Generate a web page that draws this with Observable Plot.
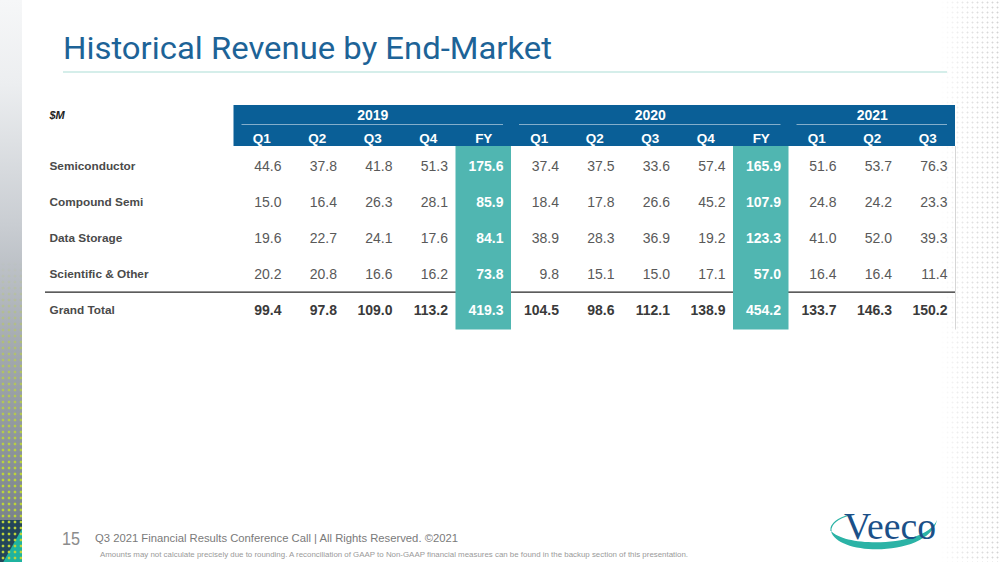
<!DOCTYPE html>
<html>
<head>
<meta charset="utf-8">
<script src="https://cdn.jsdelivr.net/npm/d3@7"></script>
<script src="https://cdn.jsdelivr.net/npm/@observablehq/plot@0.6"></script>
<style>
html, body { margin: 0; padding: 0; background: #fff; }
#page { position: relative; width: 1000px; height: 562px; overflow: hidden; background: #fff; font-family: "Liberation Sans", Arial, sans-serif; }
#leftStrip { position: absolute; left: 0; top: 0; width: 22px; height: 562px;
  background: linear-gradient(to bottom, #f6f7f8 0%, #eceef0 15%, #c9cdd2 40%, #a3a9b0 62%, #858d96 85%, #6f7882 100%); }
#leftCorner { position: absolute; left: 0; top: 520px; width: 22px; height: 42px; background: #23455a; }
#leftTeal { position: absolute; left: 0; top: 520px; width: 22px; height: 42px; background: #1fb3a0;
  clip-path: polygon(100% 20%, 100% 100%, 15% 100%); }
#leftDots { position: absolute; left: 0; top: 260px; width: 22px; height: 302px;
  background-image: radial-gradient(circle, #bcd43a 1.2px, transparent 1.7px);
  background-size: 6px 6px; background-position: 0px 1px;
  -webkit-mask-image: linear-gradient(to bottom, transparent 0%, rgba(0,0,0,0.6) 35%, #000 70%);
  mask-image: linear-gradient(to bottom, transparent 0%, rgba(0,0,0,0.6) 35%, #000 70%); }
#rightDots { position: absolute; left: 940px; top: 0; width: 60px; height: 562px;
  background-image: radial-gradient(circle, #d2d2d2 0.75px, transparent 1.2px);
  background-size: 5px 5px;
  -webkit-mask-image: linear-gradient(to right, transparent 0%, rgba(0,0,0,0.6) 45%, #000 100%);
  mask-image: linear-gradient(to right, transparent 0%, rgba(0,0,0,0.6) 45%, #000 100%); }
#header { position: absolute; left: 0; top: 105px; }
#body { position: absolute; left: 0; top: 146px; }
#deco { position: absolute; left: 0; top: 0; }
svg { overflow: visible; }
</style>
</head>
<body>
<div id="page">
  <div id="leftStrip"></div>
  <div id="leftCorner"></div>
  <div id="leftTeal"></div>
  <div id="leftDots"></div>
  <div id="rightDots"></div>
  <svg id="deco" width="1000" height="562" xmlns="http://www.w3.org/2000/svg">
    <text x="63" y="59" font-size="32" fill="#1d6397" textLength="489" lengthAdjust="spacingAndGlyphs"
      font-family="'Liberation Sans Narrow', Roboto, 'Liberation Sans', sans-serif">Historical Revenue by End-Market</text>
    <line x1="63" x2="947" y1="72" y2="72" stroke="#d5eeea" stroke-width="2"/>
    <text x="62" y="545" font-size="19" fill="#8c8c8c" textLength="18" lengthAdjust="spacingAndGlyphs"
      font-family="'Liberation Sans Narrow', 'Liberation Sans', sans-serif">15</text>
    <text x="95" y="542" font-size="11.5" fill="#7a7a7a" textLength="363" lengthAdjust="spacingAndGlyphs"
      font-family="'Liberation Sans Narrow', 'Liberation Sans', sans-serif">Q3 2021 Financial Results Conference Call  |  All Rights Reserved. ©2021</text>
    <text x="100" y="557" font-size="7.2" fill="#9a9a9a" textLength="588" lengthAdjust="spacingAndGlyphs"
      font-family="'Liberation Sans Narrow', 'Liberation Sans', sans-serif">Amounts may not calculate precisely due to rounding.  A reconciliation of GAAP to Non-GAAP financial measures can be found in the backup section of this presentation.</text>
    <g id="logo">
      <path d="M831,531 C837,557 929,557 937,520 C926,547 846,548 831,531 Z" fill="#2bb3a6"/>
      <path d="M831,531 C830,524 838,518 850,515" fill="none" stroke="#2bb3a6" stroke-width="1.2"/>
      <text x="844" y="539" font-size="38" fill="#1b5088" textLength="92" lengthAdjust="spacingAndGlyphs"
        font-family="'Liberation Serif', 'DejaVu Serif', serif">Veeco</text>
    </g>
  </svg>
  <div id="header"></div>
  <div id="body"></div>
</div>
<script>
// ---- Data ----
const years = ["2019", "2020", "2021"];
const periods = ["Q1", "Q2", "Q3", "Q4", "FY", "Q1", "Q2", "Q3", "Q4", "FY", "Q1", "Q2", "Q3"];
const periodYears = ["2019", "2019", "2019", "2019", "2019", "2020", "2020", "2020", "2020", "2020", "2021", "2021", "2021"];
const segments = ["Semiconductor", "Compound Semi", "Data Storage", "Scientific & Other", "Grand Total"];
const semiconductor   = [44.6, 37.8, 41.8, 51.3, 175.6, 37.4, 37.5, 33.6, 57.4, 165.9, 51.6, 53.7, 76.3];
const compoundSemi    = [15.0, 16.4, 26.3, 28.1, 85.9, 18.4, 17.8, 26.6, 45.2, 107.9, 24.8, 24.2, 23.3];
const dataStorage     = [19.6, 22.7, 24.1, 17.6, 84.1, 38.9, 28.3, 36.9, 19.2, 123.3, 41.0, 52.0, 39.3];
const scientificOther = [20.2, 20.8, 16.6, 16.2, 73.8, 9.8, 15.1, 15.0, 17.1, 57.0, 16.4, 16.4, 11.4];
const grandTotal      = [99.4, 97.8, 109.0, 113.2, 419.3, 104.5, 98.6, 112.1, 138.9, 454.2, 133.7, 146.3, 150.2];
const unitLabel = "$M";

// ---- Derived tables ----
const seriesBySegment = [semiconductor, compoundSemi, dataStorage, scientificOther, grandTotal];
const columns = periods.map((p, i) => ({col: i, period: p, year: periodYears[i], fy: p === "FY"}));
const yearGroups = years.map(y => {
  const cols = columns.filter(c => c.year === y);
  return {year: y, start: cols[0].col, end: cols[cols.length - 1].col + 1};
});
const cells = segments.flatMap((s, r) => seriesBySegment[r].map((v, i) => ({
  segment: s, col: i, value: v, fy: columns[i].fy, total: s === "Grand Total"
})));
const fyCols = columns.filter(c => c.fy);

const BLUE = "#0a5f97";
const TEAL = "#50b6b1";
const FONT = "'Liberation Sans', Arial, sans-serif";
const ROW_H = 36.7;
const fmt = d3.format(".1f");
const X = {type: "linear", domain: [0, periods.length], range: [233.5, 955], axis: null};

const header = Plot.plot({
  width: 1000, height: 41, marginLeft: 45, marginRight: 45, marginTop: 0, marginBottom: 0,
  x: X,
  y: {type: "band", domain: ["year", "period"], padding: 0, axis: null},
  style: {fontFamily: FONT, background: "transparent", overflow: "visible"},
  marks: [
    Plot.barX([{start: 0, end: periods.length}], {x1: "start", x2: "end", fill: BLUE}),
    Plot.barX(yearGroups, {x1: "start", x2: "end", y: () => "year", insetLeft: 8, insetRight: 8, insetTop: 18.3, insetBottom: 1.2, fill: "white"}),
    Plot.text(yearGroups, {x: d => (d.start + d.end) / 2, y: () => "year", text: "year", fill: "white", fontWeight: "bold", fontSize: 14, dy: -1}),
    Plot.text(columns, {x: d => d.col + 0.5, y: () => "period", text: "period", fill: "white", fontWeight: "bold", fontSize: 13.5, dy: 2}),
    Plot.text([unitLabel], {frameAnchor: "left", y: () => "year", text: d => d, dx: 4, dy: -1, textAnchor: "start", fill: "#222", fontWeight: "bold", fontStyle: "italic", fontSize: 11})
  ]
});
document.getElementById("header").appendChild(header);

const body = Plot.plot({
  width: 1000, height: ROW_H * segments.length, marginLeft: 45, marginRight: 45, marginTop: 0, marginBottom: 0,
  x: X,
  y: {type: "band", domain: segments, padding: 0},
  style: {fontFamily: FONT, background: "transparent", overflow: "visible"},
  marks: [
    Plot.ruleX([periods.length], {stroke: "#d6d6d6", strokeWidth: 1}),
    Plot.ruleY(["Grand Total"], {y: d => d, dy: -ROW_H / 2, stroke: "#262626", strokeWidth: 1.3}),
    Plot.barX(fyCols, {x1: "col", x2: d => d.col + 1, fill: TEAL}),
    Plot.axisY({anchor: "left", tickSize: 0, tickPadding: -4, textAnchor: "start", label: null, fontWeight: "bold", fontSize: 11.8, fill: "#4a4a4a"}),
    Plot.text(cells.filter(d => !d.fy && !d.total), {x: d => d.col + 1, y: "segment", text: d => fmt(d.value), dx: -8, textAnchor: "end", fill: "#595959", fontSize: 14}),
    Plot.text(cells.filter(d => !d.fy && d.total), {x: d => d.col + 1, y: "segment", text: d => fmt(d.value), dx: -8, textAnchor: "end", fill: "#3a3a3a", fontWeight: "bold", fontSize: 14}),
    Plot.text(cells.filter(d => d.fy), {x: d => d.col + 1, y: "segment", text: d => fmt(d.value), dx: -8, textAnchor: "end", fill: "white", fontWeight: "bold", fontSize: 14})
  ]
});
document.getElementById("body").appendChild(body);
</script>
</body>
</html>
